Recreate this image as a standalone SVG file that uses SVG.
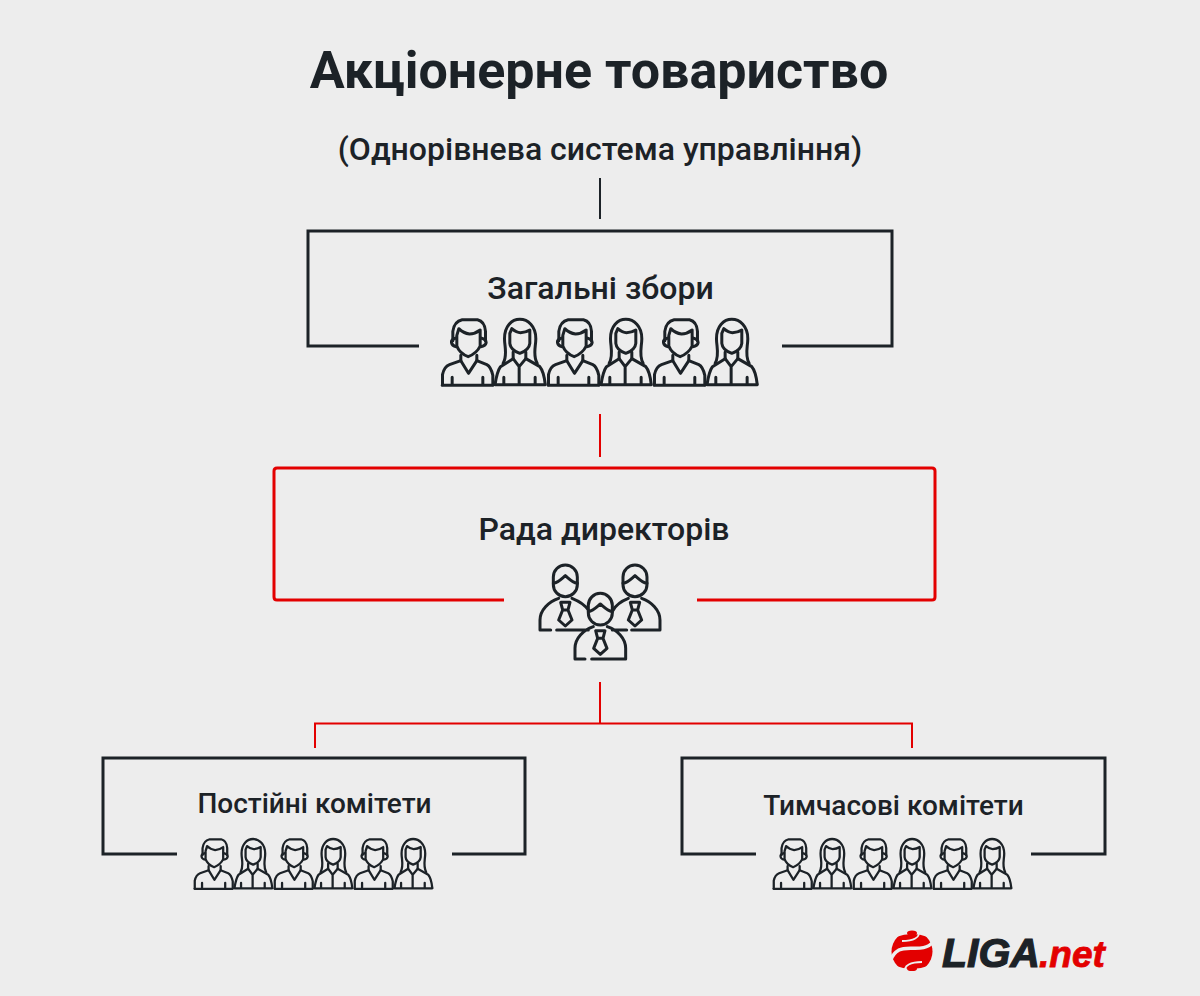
<svg xmlns="http://www.w3.org/2000/svg" width="1200" height="996" viewBox="0 0 1200 996">
<style>
.t{font-family:Roboto,"Noto Sans",sans-serif;fill:#1c2227;text-anchor:middle}
.k{fill:none;stroke:#1c2227;stroke-width:3}
.r{fill:none;stroke:#e30000;stroke-width:3}
.ic{fill:none;stroke:#1c2227;stroke-width:9;stroke-linecap:round;stroke-linejoin:round}
</style>
<defs>
<g id="man" class="ic">
<path d="M34 68V40Q38 10 62 5H108Q130 10 132 40V68"/>
<path d="M46 52L52 32Q66 46 84 48Q100 48 116 36V84Q106 106 80 116Q54 106 46 84Z"/>
<path d="M44 60Q28 64 30 74Q32 84 44 86M118 60Q134 64 134 74Q132 84 118 86"/>
<path d="M58 112V128L81 166L106 128V112"/>
<path d="M3 200V170Q8 146 24 140L58 128M106 128L136 140Q148 146 154 172V200"/>
<path d="M2 202H154M32 178V200M124 178V200"/>
</g>
<g id="woman" class="ic">
<path d="M2 200H152"/>
<path d="M26 136C40 112 30 86 30 62C30 24 52 4 76 4C100 4 124 24 124 62C124 86 114 112 128 136"/>
<path d="M46 46L52 32Q66 44 78 44Q94 44 106 36V76Q104 96 76 106Q48 96 46 76Z"/>
<path d="M56 102V122L74 146L94 122V102M74 146V198"/>
<path d="M56 122L18 146Q8 160 2 198M94 122L136 146Q148 160 152 198M28 178V198M122 178V198"/>
</g>
<g id="six">
<use href="#man" transform="translate(0 0)"/>
<use href="#woman" transform="translate(159 0)"/>
<use href="#man" transform="translate(318 0)"/>
<use href="#woman" transform="translate(477 0)"/>
<use href="#man" transform="translate(636 0)"/>
<use href="#woman" transform="translate(795 0)"/>
</g>
<g id="head" class="ic">
<rect x="-36" y="0" width="72" height="95" rx="36"/>
<path d="M-36 55C-20 52-10 40 0 32C10 40 20 52 36 55"/>
<path d="M-14 112H14L8 135H-8ZM-8 135L-20 165L0 183L20 165L8 135"/>
</g>
</defs>
<rect width="1200" height="996" fill="#ededed"/>
<text class="t" x="599" y="88" font-size="52" font-weight="700">Акціонерне товариство</text>
<text class="t" x="600" y="160" font-size="32" font-weight="500">(Однорівнева система управління)</text>
<g id="connectors">
<path d="M600 178V219" fill="none" stroke="#1c2227" stroke-width="2"/>
<path d="M600 414V457M600 682V723M315 748V723.500H912V748" fill="none" stroke="#e30000" stroke-width="2"/>
</g>
<g id="zahalni">
<path class="k" d="M419 346H308V231H892V346H782"/>
<text class="t" x="600.500" y="299" font-size="32" font-weight="500">Загальні збори</text>
<use href="#six" transform="translate(441.500 318) scale(.3333)"/>
</g>
<g id="rada">
<path class="r" d="M504 600H277Q274 600 274 597V471Q274 468 277 468H932Q935 468 935 471V597Q935 600 932 600H697"/>
<text class="t" x="604" y="540" font-size="32" font-weight="500">Рада директорів</text>
<g transform="translate(530 555) scale(.3333)">
<use href="#head" transform="translate(106 30)"/>
<use href="#head" transform="translate(315 30)"/>
<use href="#head" transform="translate(211 115)"/>
<path class="ic" d="M30 225V195C30 165 56 140 86 130M126 130C146 138 165 150 175 165M30 225H62M80 225H175M247 225H290M305 225H390M390 225V195C390 165 364 140 335 130M295 130C275 138 258 150 250 165M135 312V280C135 250 160 225 190 215M232 215C262 225 287 250 287 280V312M135 312H165M185 312H287"/>
</g>
</g>
<g id="postiini">
<path class="k" d="M177 854H103V758H525V854H452"/>
<text class="t" x="314.500" y="813" font-size="28" font-weight="500">Постійні комітети</text>
<use href="#six" transform="translate(194 838) scale(.2516)"/>
</g>
<g id="tymchasovi">
<path class="k" d="M756 854H682V758H1105V854H1031"/>
<text class="t" x="893.500" y="815" font-size="28" font-weight="500">Тимчасові комітети</text>
<use href="#six" transform="translate(773 838) scale(.2516)"/>
</g>
<g id="logo">
<circle cx="912" cy="951.500" r="20.500" fill="#e30000"/>
<path d="M933 942C924 953 908 945 899 950C894 953 892 956 891 960" fill="none" stroke="#ededed" stroke-width="3.500"/>
<path d="M918 930C922 938 912 941 902 941M906 973C902 965 912 962 922 962" fill="none" stroke="#ededed" stroke-width="1.800"/>
<path d="M896 930H928V937Q912 931 896 937ZM896 973H928V966Q912 972 896 966Z" fill="#ededed"/>
<ellipse cx="912" cy="933" rx="5" ry="2.600" fill="#e30000"/>
<ellipse cx="912" cy="968.500" rx="5" ry="2.600" fill="#e30000"/>
<text x="942" y="967" font-family="'Liberation Sans',sans-serif" font-size="41" font-weight="700" font-style="italic" fill="#1c2227" stroke="#1c2227" stroke-width="1.200">LIGA</text>
<text x="1039" y="967" font-family="'Liberation Sans',sans-serif" font-size="37" font-weight="700" font-style="italic" fill="#e30000" stroke="#e30000" stroke-width=".8">.net</text>
</g>
</svg>
